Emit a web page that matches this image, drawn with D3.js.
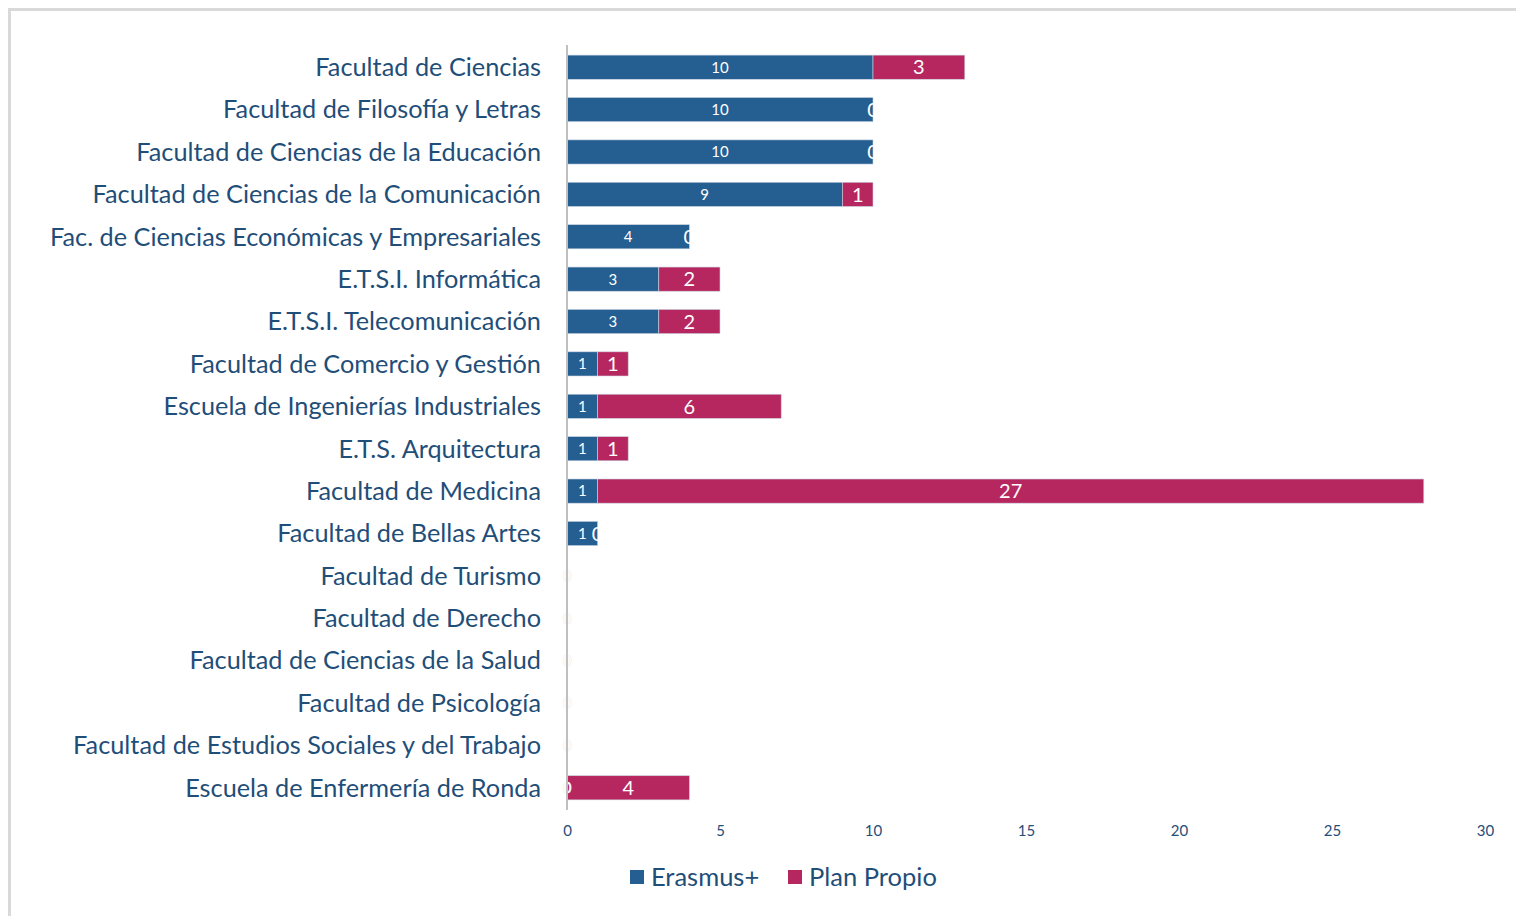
<!DOCTYPE html>
<html>
<head>
<meta charset="utf-8">
<script src="https://cdn.jsdelivr.net/npm/d3@7"></script>
<style>
  body { margin: 0; background: #fff; }
  svg { display: block; font-family: Lato, "Open Sans", sans-serif; }
</style>
</head>
<body>
<div id="chart"></div>
<script>
// Data
var categories = [
    "Facultad de Ciencias",
    "Facultad de Filosofía y Letras",
    "Facultad de Ciencias de la Educación",
    "Facultad de Ciencias de la Comunicación",
    "Fac. de Ciencias Económicas y Empresariales",
    "E.T.S.I. Informática",
    "E.T.S.I. Telecomunicación",
    "Facultad de Comercio y Gestión",
    "Escuela de Ingenierías Industriales",
    "E.T.S. Arquitectura",
    "Facultad de Medicina",
    "Facultad de Bellas Artes",
    "Facultad de Turismo",
    "Facultad de Derecho",
    "Facultad de Ciencias de la Salud",
    "Facultad de Psicología",
    "Facultad de Estudios Sociales y del Trabajo",
    "Escuela de Enfermería de Ronda"
];
var erasmus = [10, 10, 10, 9, 4, 3, 3, 1, 1, 1, 1, 1, 0, 0, 0, 0, 0, 0];
var planPropio = [3, 0, 0, 1, 0, 2, 2, 1, 6, 1, 27, 0, 0, 0, 0, 0, 0, 4];
var seriesNames = ["Erasmus+", "Plan Propio"];
var xTicks = [0, 5, 10, 15, 20, 25, 30];

var svgWidth = 1516;
var svgHeight = 916;
var colors = ["#255e91", "#b7275f"];
var textColor = "#1f4e79";

var svg = d3.select("#chart")
    .append("svg")
    .attr("width", svgWidth)
    .attr("height", svgHeight);

// outer frame
svg.append("rect")
    .attr("x", 9.5)
    .attr("y", 9.5)
    .attr("width", svgWidth + 20)
    .attr("height", svgHeight + 20)
    .attr("fill", "none")
    .attr("stroke", "#d9d9d9")
    .attr("stroke-width", 3);

var x = d3.scaleLinear().domain([0, 30]).range([567, 1485]);
var y = d3.scaleBand().domain(categories).range([46, 809]).paddingInner(0.43).paddingOuter(0.215);

var rows = categories.map(function (c, i) {
    return { cat: c, e: erasmus[i], p: planPropio[i] };
});

// bars
var g = svg.append("g");
rows.forEach(function (d) {
    var segs = [
        { x0: 0, x1: d.e, v: d.e, s: 0 },
        { x0: d.e, x1: d.e + d.p, v: d.p, s: 1 }
    ];
    segs.forEach(function (s) {
        if (s.v > 0) {
            g.append("rect")
                .attr("x", x(s.x0))
                .attr("y", y(d.cat))
                .attr("width", x(s.x1) - x(s.x0))
                .attr("height", y.bandwidth())
                .attr("fill", colors[s.s])
                .attr("stroke", "#c9d3e0")
                .attr("stroke-width", 0.6);
        }
    });
});

// axis line
svg.append("line")
    .attr("x1", x(0)).attr("x2", x(0))
    .attr("y1", 45).attr("y2", 810)
    .attr("stroke", "#bfbfbf")
    .attr("stroke-width", 2);

// data labels
rows.forEach(function (d) {
    var cy = y(d.cat) + y.bandwidth() / 2;
    var bothZero = d.e === 0 && d.p === 0;
    g.append("text")
        .attr("x", x(d.e / 2))
        .attr("y", cy)
        .attr("dy", "0.36em")
        .attr("text-anchor", "middle")
        .attr("fill", "#fff")
        .attr("stroke", d.e === 0 ? "#e3e3e3" : "none")
        .attr("stroke-width", 0.7)
        .attr("paint-order", "stroke")
        .attr("font-size", 15)
        .text(d.e);
    if (!bothZero) {
        g.append("text")
            .attr("x", x(d.e + d.p / 2))
            .attr("y", cy)
            .attr("dy", "0.36em")
            .attr("text-anchor", "middle")
            .attr("fill", "#fff")
            .attr("font-size", 20)
            .text(d.p);
    }
});

// category labels
svg.append("g").selectAll("text")
    .data(categories)
    .enter()
    .append("text")
    .attr("x", 541)
    .attr("y", function (d) { return y(d) + y.bandwidth() / 2; })
    .attr("dy", "0.35em")
    .attr("text-anchor", "end")
    .attr("fill", textColor)
    .attr("font-size", 25.3)
    .text(function (d) { return d; });

// x axis tick labels
var xAxis = d3.axisBottom(x).tickValues(xTicks).tickSize(0).tickPadding(0);
var axisG = svg.append("g")
    .attr("transform", "translate(0, 825)")
    .call(xAxis);
axisG.select(".domain").remove();
axisG.selectAll("text")
    .attr("fill", textColor)
    .attr("font-size", 15)
    .attr("font-family", "Lato, sans-serif");

// legend
var legend = svg.append("g");
var legendX = [630, 788];
seriesNames.forEach(function (name, i) {
    legend.append("rect")
        .attr("x", legendX[i])
        .attr("y", 870)
        .attr("width", 14)
        .attr("height", 14)
        .attr("fill", colors[i]);
    legend.append("text")
        .attr("x", legendX[i] + 21)
        .attr("y", 877)
        .attr("dy", "0.35em")
        .attr("fill", textColor)
        .attr("font-size", 25.5)
        .text(name);
});
</script>
</body>
</html>
